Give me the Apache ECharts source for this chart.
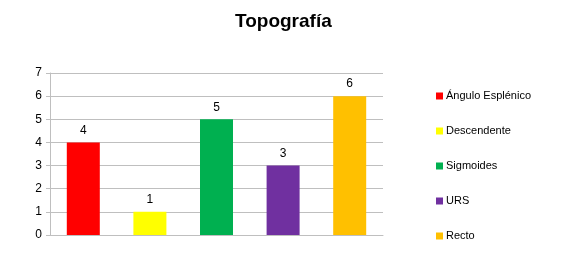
<!DOCTYPE html>
<html><head><meta charset="utf-8">
<script src="https://cdn.jsdelivr.net/npm/echarts@6/dist/echarts.min.js"></script>
<style>html,body{margin:0;padding:0;background:#fff}#c{width:588px;height:255px}</style>
</head><body><div id="c"></div>
<script>
var categories = ['Ángulo Esplénico', 'Descendente', 'Sigmoides', 'URS', 'Recto'];
var values = [4, 1, 5, 3, 6];
var colors = ['#ff0000', '#ffff00', '#00b050', '#7030a0', '#ffc000'];
var yTicks = [0, 1, 2, 3, 4, 5, 6, 7];

var series = categories.map(function (name, i) {
  var d = categories.map(function (c, j) { return j === i ? values[i] : null; });
  return {
    name: name, type: 'bar', stack: 'all', data: d, barWidth: 33,
    itemStyle: { color: colors[i] },
    label: { show: true, position: 'top', distance: 6, color: '#000', fontSize: 12,
      fontFamily: 'Liberation Sans' }
  };
});

var chart = echarts.init(document.getElementById('c'), null, { renderer: 'canvas' });
chart.setOption({
  animation: false,
  title: { text: 'Topografía', left: 235, top: 12, padding: 0,
    textStyle: { fontSize: 19, fontWeight: 'bold', color: '#000', fontFamily: 'Liberation Sans' } },
  grid: { left: 50, right: 205, top: 73, bottom: 20 },
  xAxis: { type: 'category', data: categories,
    axisLine: { lineStyle: { color: '#bfbfbf' } }, axisTick: { show: false },
    axisLabel: { show: false } },
  yAxis: { type: 'value', min: yTicks[0], max: yTicks[yTicks.length - 1], interval: 1,
    axisLine: { show: true, lineStyle: { color: '#bfbfbf' } },
    axisTick: { show: true, length: 4, lineStyle: { color: '#bfbfbf' } },
    axisLabel: { color: '#000', fontSize: 12, margin: 8, fontFamily: 'Liberation Sans' },
    splitLine: { lineStyle: { color: '#bfbfbf' } } },
  legend: { orient: 'vertical', left: 431, top: 84, itemWidth: 7, itemHeight: 7, itemGap: 21,
    icon: 'rect', data: categories,
    textStyle: { fontSize: 11, color: '#000', lineHeight: 14, padding: [0, 0, 0, -2], fontFamily: 'Liberation Sans' } },
  series: series
});
</script></body></html>
